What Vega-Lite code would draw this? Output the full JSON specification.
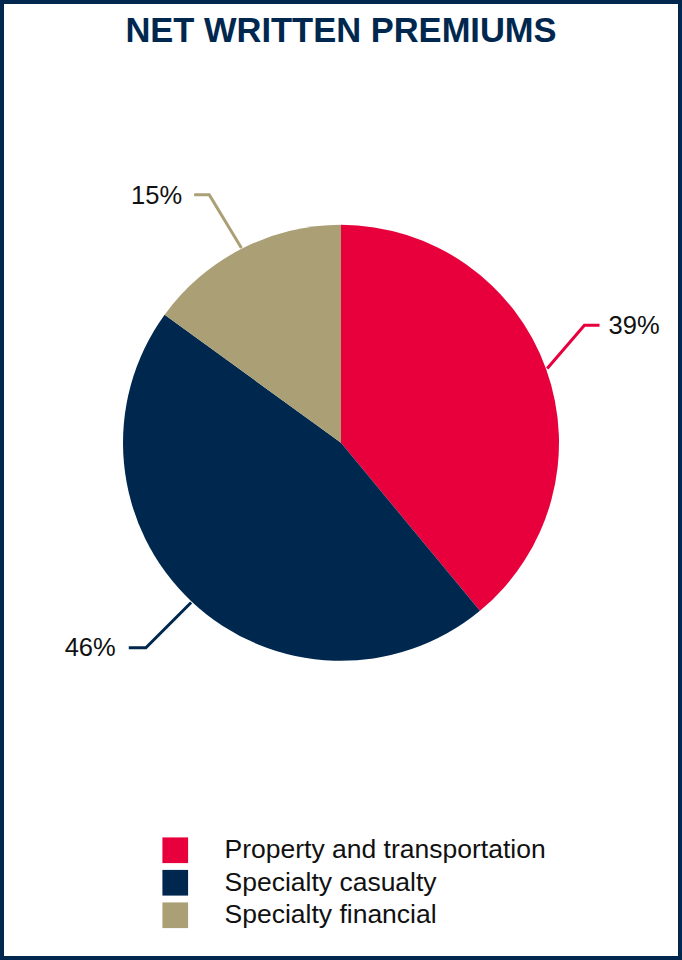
{
  "$schema": "https://vega.github.io/schema/vega-lite/v6.json",
  "width": 682,
  "height": 960,
  "autosize": {"type": "fit", "contains": "padding"},
  "padding": 0,
  "background": "white",
  "config": {
    "view": {"stroke": "#00284F", "strokeWidth": 8},
    "font": "Liberation Sans"
  },
  "datasets": {
    "heading": [
      {"text": "NET WRITTEN PREMIUMS", "hx": 0, "hy": 399}
    ],
    "slices": [
      {"segment": "Property and transportation", "share": 39, "order": 1},
      {"segment": "Specialty casualty", "share": 46, "order": 2},
      {"segment": "Specialty financial", "share": 15, "order": 3}
    ],
    "leaders": [
      {"segment": "Property and transportation", "pt": 1, "lx": 205, "ly": 74},
      {"segment": "Property and transportation", "pt": 2, "lx": 242, "ly": 117},
      {"segment": "Property and transportation", "pt": 3, "lx": 257, "ly": 117},
      {"segment": "Specialty casualty", "pt": 1, "lx": -149, "ly": -159},
      {"segment": "Specialty casualty", "pt": 2, "lx": -194, "ly": -204},
      {"segment": "Specialty casualty", "pt": 3, "lx": -211, "ly": -204},
      {"segment": "Specialty financial", "pt": 1, "lx": -99, "ly": 194},
      {"segment": "Specialty financial", "pt": 2, "lx": -131, "ly": 247},
      {"segment": "Specialty financial", "pt": 3, "lx": -146, "ly": 247}
    ],
    "labels": [
      {"segment": "Property and transportation", "label": "39%", "tx": 266, "ty": 108, "side": "left"},
      {"segment": "Specialty casualty", "label": "46%", "tx": -224, "ty": -212, "side": "right"},
      {"segment": "Specialty financial", "label": "15%", "tx": -158, "ty": 238, "side": "right"}
    ]
  },
  "layer": [
    {
      "data": {"name": "slices"},
      "mark": {"type": "arc", "outerRadius": 218, "stroke": null},
      "encoding": {
        "x": {"datum": 0, "type": "quantitative", "scale": {"domain": [-339, 339], "nice": false, "zero": false}, "axis": null},
        "y": {"datum": 0, "type": "quantitative", "scale": {"domain": [-515, 441], "nice": false, "zero": false}, "axis": null},
        "theta": {"field": "share", "type": "quantitative", "stack": true},
        "order": {"field": "order", "type": "quantitative"},
        "color": {
          "field": "segment",
          "type": "nominal",
          "scale": {
            "domain": ["Property and transportation", "Specialty casualty", "Specialty financial"],
            "range": ["#E8003C", "#00284F", "#AA9F75"]
          },
          "legend": {
            "title": null,
            "orient": "none",
            "legendX": 162,
            "legendY": 837,
            "padding": 0,
            "symbolType": "square",
            "symbolSize": 660,
            "symbolStrokeWidth": 0,
            "symbolOpacity": 1,
            "labelFont": "Liberation Sans",
            "labelFontSize": 26.5,
            "labelColor": "#111111",
            "labelOffset": 36,
            "labelLimit": 0,
            "rowPadding": 5.5
          }
        }
      }
    },
    {
      "data": {"name": "leaders"},
      "mark": {"type": "line", "strokeWidth": 3, "strokeCap": "butt", "strokeJoin": "miter"},
      "encoding": {
        "x": {"field": "lx", "type": "quantitative"},
        "y": {"field": "ly", "type": "quantitative"},
        "order": {"field": "pt", "type": "quantitative"},
        "color": {"field": "segment", "type": "nominal", "legend": null},
        "detail": {"field": "segment"}
      }
    },
    {
      "data": {"name": "labels"},
      "transform": [{"filter": "datum.side == 'left'"}],
      "mark": {"type": "text", "align": "left", "baseline": "alphabetic", "fontSize": 25.5, "font": "Liberation Sans", "color": "#111111"},
      "encoding": {
        "x": {"field": "tx", "type": "quantitative"},
        "y": {"field": "ty", "type": "quantitative"},
        "text": {"field": "label"}
      }
    },
    {
      "data": {"name": "labels"},
      "transform": [{"filter": "datum.side == 'right'"}],
      "mark": {"type": "text", "align": "right", "baseline": "alphabetic", "fontSize": 25.5, "font": "Liberation Sans", "color": "#111111"},
      "encoding": {
        "x": {"field": "tx", "type": "quantitative"},
        "y": {"field": "ty", "type": "quantitative"},
        "text": {"field": "label"}
      }
    },
    {
      "data": {"name": "heading"},
      "mark": {"type": "text", "align": "center", "baseline": "alphabetic", "fontSize": 34.5, "fontWeight": "bold", "font": "Liberation Sans", "color": "#00284F"},
      "encoding": {
        "x": {"field": "hx", "type": "quantitative"},
        "y": {"field": "hy", "type": "quantitative"},
        "text": {"field": "text"}
      }
    }
  ]
}
